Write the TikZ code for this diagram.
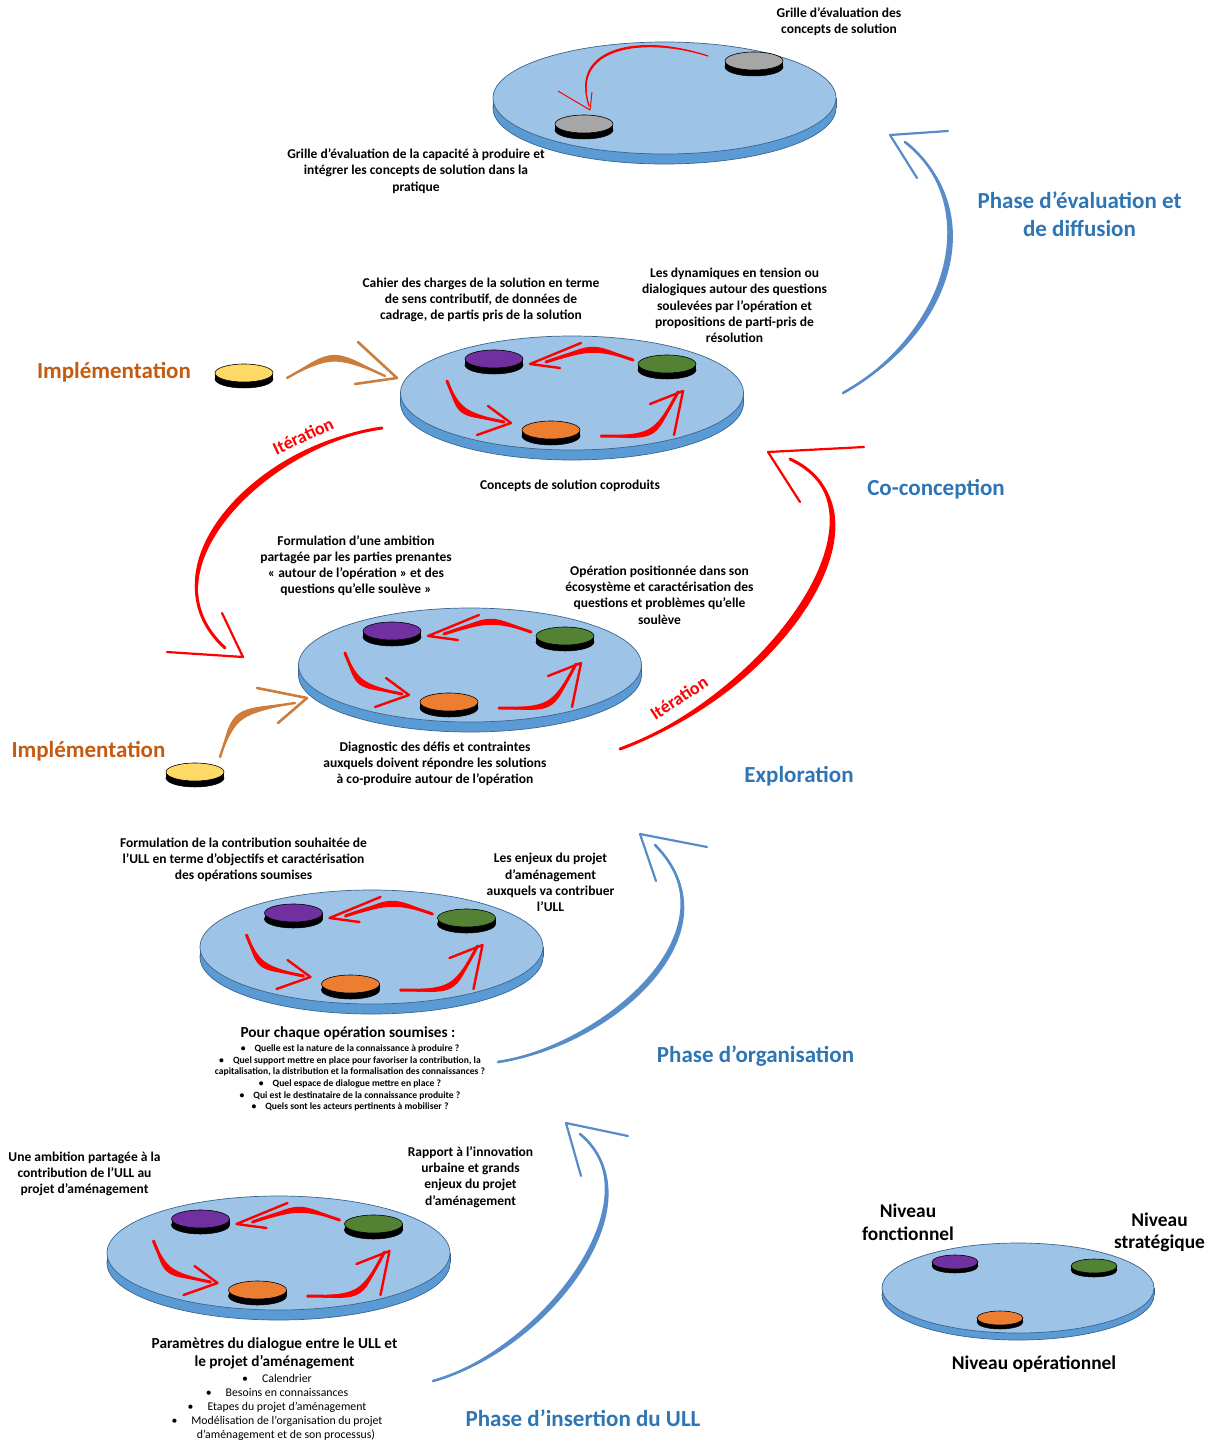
\documentclass[tikz,border=0pt]{standalone}
\usepackage{fontspec}
\setmainfont{Carlito}
\definecolor{topblue}{RGB}{157,195,230}
\definecolor{sideblue}{RGB}{91,155,213}
\definecolor{rimcol}{RGB}{60,100,140}
\definecolor{phaseblue}{RGB}{46,117,182}
\definecolor{arcblue}{RGB}{88,140,200}
\definecolor{redc}{RGB}{255,0,0}
\definecolor{impltext}{RGB}{197,90,17}
\definecolor{implarrow}{RGB}{204,125,60}
\definecolor{pkpurple}{RGB}{112,48,160}
\definecolor{pkgreen}{RGB}{84,130,53}
\definecolor{pkorange}{RGB}{237,125,49}
\definecolor{pkgray}{RGB}{166,166,166}
\definecolor{pkyellow}{RGB}{255,217,102}

\tikzset{
 lbl/.style={font=\bfseries\fontsize{13.5}{16.2}\selectfont, align=center, inner sep=0pt, text=black},
 heading/.style={font=\bfseries\fontsize{15.3}{17.5}\selectfont, align=center, inner sep=0pt},
 bultiny/.style={font=\bfseries\fontsize{9.6}{11.6}\selectfont, align=center, inner sep=0pt},
 bulsmall/.style={font=\fontsize{11.8}{14}\selectfont, align=center, inner sep=0pt},
 phase/.style={font=\bfseries\fontsize{23}{28}\selectfont, text=phaseblue, align=center, inner sep=0pt},
 impl/.style={font=\bfseries\fontsize{23}{26}\selectfont, text=impltext, inner sep=0pt},
 iter/.style={font=\bfseries\fontsize{18}{20}\selectfont, text=redc, inner sep=0pt},
 lvl/.style={font=\bfseries\fontsize{19.4}{22.5}\selectfont, align=center, inner sep=0pt},
 chev/.style={draw=redc, line width=2.4pt, line join=round, line cap=round},
 rchev/.style={draw=redc, line width=2.2pt, line join=round, line cap=round},
 bchev/.style={draw=arcblue, line width=2.2pt, line join=round, line cap=round},
 ochev/.style={draw=implarrow, line width=2.6pt, line join=round, line cap=round},
 shaft/.style={draw=redc, line width=3pt, line cap=round},
}

% platter: cx, cy, rx, ry, thickness
\newcommand\platter[5]{%
\begin{scope}[shift={(#1,#2)}]
\filldraw[fill=sideblue,draw=rimcol,line width=0.7pt] (0,#5) ellipse [x radius=#3pt,y radius=#4pt];
\fill[sideblue] (-#3,0) rectangle (#3,#5);
\draw[rimcol,line width=0.7pt] (-#3,0) -- (-#3,#5) (#3,0) -- (#3,#5);
\filldraw[fill=topblue,draw=rimcol,line width=0.7pt] (0,0) ellipse [x radius=#3pt,y radius=#4pt];
\end{scope}}

% puck: x, y, colour, rx, ry, thickness
\newcommand\puckgen[6]{%
\begin{scope}[shift={(#1,#2)}]
\filldraw[fill=black,draw=black,line width=0.5pt] (0,#6) ellipse [x radius=#4pt,y radius=#5pt];
\fill[black] (-#4,0) rectangle (#4,#6);
\filldraw[fill=#3,draw=black,line width=0.6pt] (0,0) ellipse [x radius=#4pt,y radius=#5pt];
\end{scope}}

\newcommand\cyclearrows{%
\fill[redc] (61,-33) .. controls (20,-51) .. (-22,-31) .. controls (20,-43) .. (61,-33);
\draw[shaft] (61,-33) .. controls (20,-47) .. (-26,-31);
\draw[chev] (9,-50) -- (-42,-29) -- (-12,-25);
\fill[redc] (-125,-12) .. controls (-109.5,16.7) .. (-72,28) .. controls (-114.5,23.3) .. (-125,-12);
\draw[shaft] (-125,-12) .. controls (-112,20) .. (-68,29);
\draw[chev] (-84,13) -- (-61,30) -- (-95,42);
\fill[redc] (29,43) .. controls (84,47.4) .. (104,2) .. controls (80,40.6) .. (29,43);
\draw[shaft] (29,43) .. controls (82,44) .. (106,-1);
\draw[chev] (78,11) -- (111,-2) -- (102,42);
}

\newcommand\stage[2]{%
\platter{#1}{#2}{171.5}{57}{10}%
\begin{scope}[shift={(#1,#2)}]
\puckgen{-78}{-34}{pkpurple}{29}{9}{6}
\puckgen{95}{-29}{pkgreen}{29}{9}{6}
\puckgen{-21}{37}{pkorange}{29}{9}{6}
\cyclearrows
\end{scope}}

\begin{document}
\begin{tikzpicture}[x=1pt,y=-1pt]
\useasboundingbox (0,0) rectangle (1215,1443);

% ---- top evaluation disk
\platter{664.5}{98}{171.5}{56}{10}
\puckgen{754}{61}{pkgray}{29}{9}{6}
\puckgen{584}{124}{pkgray}{29}{9}{6}
\fill[redc] (708,56) .. controls (640,31.5) and (567.5,48) .. (589,105) .. controls (572.5,48) and (640,36.5) .. (708,56);
\draw[redc, line width=1.2pt, line cap=round] (708,56) .. controls (640,34) and (570,48) .. (589,106);
\draw[redc, line width=1pt, line join=round] (558,91) -- (590,110) -- (592,92);

% ---- stage disks
\stage{572}{393}
\stage{470}{665}
\stage{371.5}{947}
\stage{278.5}{1253}

% ---- legend disk
\platter{1018}{1288}{136}{45}{7}
\puckgen{955}{1262}{pkpurple}{23}{7}{4}
\puckgen{1094}{1266}{pkgreen}{23}{7}{4}
\puckgen{1000}{1318}{pkorange}{23}{7}{4}

% ---- implementation pucks and arrows
\puckgen{244}{373}{pkyellow}{29}{9}{6}
\puckgen{195}{772}{pkyellow}{29}{9}{6}
\coordinate (o1S) at (287,378); \coordinate (o1E) at (385,376);
\fill[implarrow] (o1S) .. controls (333,347.5) .. (o1E) .. controls (333,356.5) .. (o1S);
\draw[implarrow, line width=2.4pt, line cap=round] (o1S) .. controls (333,352) .. (o1E);
\draw[ochev] (358,342) -- (397,378) -- (355,384);
\coordinate (o2S) at (220,757); \coordinate (o2E) at (295,703);
\fill[implarrow] (o2S) .. controls (237.8,715.8) .. (o2E) .. controls (232.2,708.2) .. (o2S);
\draw[implarrow, line width=2.4pt, line cap=round] (o2S) .. controls (235,712) .. (o2E);
\draw[ochev] (257,688) -- (307,698) -- (278,723);

% ---- red iteration arcs
\coordinate (rS) at (620,749); \coordinate (rE) at (790,459);
\fill[redc] (rS) .. controls (782.2,695.5) and (905.8,511.1) .. (rE) .. controls (894.2,508.9) and (777.8,684.5) .. (rS);
\draw[redc, line width=3pt, line cap=round] (rS) .. controls (780,690) and (900,510) .. (rE);
\draw[rchev] (864,447) -- (768,452) -- (800,502);
\coordinate (lS) at (382,428); \coordinate (lE) at (225,648);
\fill[redc] (lS) .. controls (259.4,440) and (136.5,566.7) .. (lE) .. controls (143.5,573.3) and (260.6,450) .. (lS);
\draw[redc, line width=3pt, line cap=round] (lS) .. controls (260,445) and (140,570) .. (lE);
\draw[rchev] (167,652) -- (243,657) -- (222,613);

% ---- blue phase arcs
\coordinate (eS) at (843,393); \coordinate (eE) at (905,142);
\fill[arcblue] (eS) .. controls (958.2,333.2) and (989.5,205) .. (eE) .. controls (980.5,205) and (951.8,326.8) .. (eS);
\draw[arcblue, line width=2.6pt, line cap=round] (eS) .. controls (955,330) and (985,205) .. (eE);
\draw[bchev] (948,131) -- (890,135) -- (917,178);
\coordinate (oS) at (498,1062); \coordinate (oE) at (655,845);
\fill[arcblue] (oS) .. controls (611,1049.5) and (744.4,931.1) .. (oE) .. controls (735.6,928.9) and (609,1040.5) .. (oS);
\draw[arcblue, line width=2.6pt, line cap=round] (oS) .. controls (610,1045) and (740,930) .. (oE);
\draw[bchev] (707,847) -- (640,834) -- (656,881);
\coordinate (iS) at (433,1381); \coordinate (iE) at (580,1134);
\fill[arcblue] (iS) .. controls (546,1354.5) and (664.4,1201.1) .. (iE) .. controls (655.6,1198.9) and (544,1345.5) .. (iS);
\draw[arcblue, line width=2.6pt, line cap=round] (iS) .. controls (545,1350) and (660,1200) .. (iE);
\draw[bchev] (628,1136) -- (566,1123) -- (581,1176);

% ---- texts
\node[lbl] (t1) at (839,22) {Grille d’évaluation des\\concepts de solution};
\node[lbl] (t2) at (416,171) {Grille d’évaluation de la capacité à produire et\\intégrer les concepts de solution dans la\\pratique};
\node[lbl] (t3) at (481,300) {Cahier des charges de la solution en terme\\de sens contributif, de données de\\cadrage, de partis pris de la solution};
\node[lbl] (t4) at (734.5,305.5) {Les dynamiques en tension ou\\dialogiques autour des questions\\soulevées par l’opération et\\propositions de parti-pris de\\résolution};
\node[lbl] (t5) at (570,486) {Concepts de solution coproduits};
\node[lbl] (t6) at (356,565.5) {Formulation d’une ambition\\partagée par les parties prenantes\\«~autour de l’opération~» et des\\questions qu’elle soulève~»};
\node[lbl] (t7) at (659.5,595) {Opération positionnée dans son\\écosystème et caractérisation des\\questions et problèmes qu’elle\\soulève};
\node[lbl] (t8) at (435,764) {Diagnostic des défis et contraintes\\auxquels doivent répondre les solutions\\à co-produire autour de l’opération};
\node[lbl] (t9) at (243.5,860) {Formulation de la contribution souhaitée de\\l’ULL en terme d’objectifs et caractérisation\\des opérations soumises};
\node[lbl] (t10) at (550.5,882.5) {Les enjeux du projet\\d’aménagement\\auxquels va contribuer\\l’ULL};
\node[heading] (t11) at (348,1033) {Pour chaque opération soumises :};
\node[bultiny] (t11b) at (350,1078) {•\hspace{9pt}Quelle est la nature de la connaissance à produire ?\\•\hspace{9pt}Quel support mettre en place pour favoriser la contribution, la\\capitalisation, la distribution et la formalisation des connaissances ?\\•\hspace{9pt}Quel espace de dialogue mettre en place ?\\•\hspace{9pt}Qui est le destinataire de la connaissance produite ?\\•\hspace{9pt}Quels sont les acteurs pertinents à mobiliser ?};
\node[lbl] (t12) at (84.5,1174) {Une ambition partagée à la\\contribution de l’ULL au\\projet d’aménagement};
\node[lbl] (t13) at (470.5,1177) {Rapport à l’innovation\\urbaine et grands\\enjeux du projet\\d’aménagement};
\node[heading] (t14) at (274.5,1353.5) {Paramètres du dialogue entre le ULL et\\le projet d’aménagement};
\node[bulsmall] (t14b) at (277,1407) {•\hspace{14pt}Calendrier\\•\hspace{14pt}Besoins en connaissances\\•\hspace{14pt}Etapes du projet d’aménagement\\•\hspace{14pt}Modélisation de l’organisation du projet\\\hspace*{18pt}d’aménagement et de son processus)};

\node[lvl] (n1) at (908,1222) {Niveau\\fonctionnel};
\node[lvl] (n2) at (1159.5,1232.5) {Niveau\\stratégique};
\node[lvl] (n3) at (1034,1364) {Niveau opérationnel};

\node[phase] (p1) at (1079.5,214) {Phase d’évaluation et\\de diffusion};
\node[phase] (p2) at (936,489) {Co-conception};
\node[phase] (p3) at (799,776) {Exploration};
\node[phase] (p4) at (755.5,1056) {Phase d’organisation};
\node[phase] (p5) at (583,1418) {Phase d’insertion du ULL};

\node[impl] (im1) at (114,372) {Implémentation};
\node[impl] (im2) at (88.5,751) {Implémentation};

\node[iter, rotate=25] (it1) at (303,436) {Itération};
\node[iter, rotate=33] (it2) at (679,698) {Itération};
\end{tikzpicture}
\end{document}
